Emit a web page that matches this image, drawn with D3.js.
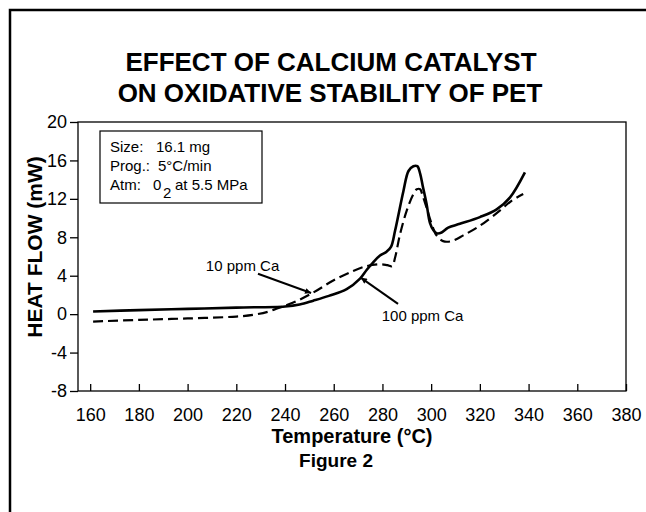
<!DOCTYPE html>
<html>
<head>
<meta charset="utf-8">
<script src="https://cdn.jsdelivr.net/npm/d3@7"></script>
<style>
  body { margin: 0; background: #fff; }
  svg { font-family: "Liberation Sans", Arial, sans-serif; }
</style>
</head>
<body>
<script>
// chart data (temperature in °C, heat flow in mW)
var xTicks = [160, 180, 200, 220, 240, 260, 280, 300, 320, 340, 360, 380];
var yTicks = [-8, -4, 0, 4, 8, 12, 16, 20];

var tempHigh = [161.2, 180, 200, 220, 240, 246, 251.6, 258, 265.3, 270.8, 273.5, 276.2, 279, 281.7, 283.5,
                285.2, 288.6, 290.7, 292.7, 294.3, 295.5, 296.5, 298.1, 299.5, 301, 302.5, 304.3, 307,
                311.8, 320, 326.9, 332.4, 338.5];
var flowHigh = [0.27, 0.42, 0.55, 0.68, 0.8, 1.0, 1.4, 1.9, 2.6, 3.7, 4.6, 5.4, 6.1, 6.5, 7.0,
                8.7, 12.8, 14.9, 15.4, 15.4, 14.6, 13.4, 11.5, 9.5, 8.7, 8.4, 8.5, 9.0,
                9.4, 10.1, 10.9, 12.15, 14.75];

var tempLow = [161.2, 180, 200, 220, 227, 233, 238, 243.4, 251.6, 259.8, 268, 273.5, 279, 282, 284,
               285.2, 287.2, 290, 292.7, 294.1, 295.5, 296.3, 298.1, 300.2, 302.2, 304.9, 308.4,
               313.2, 320, 328.3, 333, 337.8];
var flowLow = [-0.77, -0.6, -0.45, -0.25, -0.07, 0.25, 0.7, 1.2, 2.25, 3.5, 4.5, 5.0, 5.2, 5.1, 5.0,
               5.9, 8.3, 10.8, 12.5, 13.0, 13.0, 12.5, 11.1, 9.4, 8.2, 7.6, 7.6,
               8.2, 9.2, 10.8, 11.8, 12.5];

var infoLabels = ["Size:", "Prog.:", "Atm:"];
var infoValues = ["16.1 mg", "5°C/min", "0"];

// annotations: label position, arrow start, arrow tip (data units)
var notes = [
  {text: "10 ppm Ca", at: [207.5, 4.5], from: [228.9, 4.2], to: [250.7, 2.2]},
  {text: "100 ppm Ca", at: [279.7, -0.7], from: [286.4, 1.07], to: [271.2, 3.78]}
];

var w = 646, h = 512;

var svg = d3.select("body").append("svg")
    .attr("width", w)
    .attr("height", h);

svg.append("defs").append("marker")
    .attr("id", "head")
    .attr("viewBox", "0 0 10 10")
    .attr("refX", 10).attr("refY", 5)
    .attr("markerWidth", 10).attr("markerHeight", 6)
    .attr("markerUnits", "userSpaceOnUse")
    .attr("orient", "auto")
  .append("path")
    .attr("d", "M0,0L10,5L0,10Z")
    .attr("fill", "#000");

// outer frame, runs off the right and bottom edge
svg.append("rect")
    .attr("x", 10).attr("y", 10)
    .attr("width", 700).attr("height", 600)
    .attr("fill", "none")
    .attr("stroke", "#000")
    .attr("stroke-width", 2.5);

var x = d3.scaleLinear().domain([155, 380]).range([78, 626]);
var y = d3.scaleLinear().domain([-8, 20]).range([391, 122]);

// title
svg.append("text")
    .attr("x", 331).attr("y", 71)
    .attr("text-anchor", "middle")
    .attr("font-size", 26).attr("font-weight", "bold")
    .text("EFFECT OF CALCIUM CATALYST");
svg.append("text")
    .attr("x", 330).attr("y", 102)
    .attr("text-anchor", "middle")
    .attr("font-size", 26).attr("font-weight", "bold")
    .text("ON OXIDATIVE STABILITY OF PET");

// plot box
svg.append("rect")
    .attr("x", x(155)).attr("y", y(20))
    .attr("width", x(380) - x(155)).attr("height", y(-8) - y(20))
    .attr("fill", "none")
    .attr("stroke", "#000")
    .attr("stroke-width", 1.3);

// x axis, ticks pointing inward
var xAxis = svg.append("g")
    .attr("transform", "translate(0," + y(-8) + ")")
    .call(d3.axisBottom(x).tickValues(xTicks).tickSize(-7).tickPadding(17));
xAxis.select(".domain").remove();
xAxis.selectAll("line").attr("stroke-width", 1.3);
xAxis.selectAll("text").attr("font-size", 18).attr("font-family", "Liberation Sans, Arial, sans-serif");

// y axis, ticks pointing outward, plain hyphen for negatives
var yAxis = svg.append("g")
    .attr("transform", "translate(" + x(155) + ",0)")
    .call(d3.axisLeft(y).tickValues(yTicks).tickSize(8).tickPadding(3)
        .tickFormat(function(d) { return String(d); }));
yAxis.select(".domain").remove();
yAxis.selectAll("line").attr("stroke-width", 1.3);
yAxis.selectAll("text").attr("font-size", 18).attr("font-family", "Liberation Sans, Arial, sans-serif");

// axis titles
svg.append("text")
    .attr("transform", "translate(42,247) rotate(-90)")
    .attr("text-anchor", "middle")
    .attr("font-size", 21).attr("font-weight", "bold")
    .text("HEAT FLOW (mW)");
svg.append("text")
    .attr("x", 352).attr("y", 443)
    .attr("text-anchor", "middle")
    .attr("font-size", 20).attr("font-weight", "bold")
    .text("Temperature (°C)");
svg.append("text")
    .attr("x", 336).attr("y", 467)
    .attr("text-anchor", "middle")
    .attr("font-size", 19).attr("font-weight", "bold")
    .text("Figure 2");

// info box
svg.append("rect")
    .attr("x", 100).attr("y", 131)
    .attr("width", 162).attr("height", 72)
    .attr("fill", "#fff")
    .attr("stroke", "#000")
    .attr("stroke-width", 1.2);

var valueX = [156, 158, 153];
infoLabels.forEach(function(lab, i) {
    var by = 151.5 + i * 19;
    svg.append("text").attr("x", 110).attr("y", by).attr("font-size", 15).text(lab);
    svg.append("text").attr("x", valueX[i]).attr("y", by).attr("font-size", 15).text(infoValues[i]);
});
svg.append("text").attr("x", 163).attr("y", 198).attr("font-size", 15).text("2");
svg.append("text").attr("x", 175).attr("y", 189.5).attr("font-size", 15).text("at 5.5 MPa");

// curves
var line = d3.line()
    .x(function(d) { return x(d[0]); })
    .y(function(d) { return y(d[1]); })
    .curve(d3.curveCatmullRom.alpha(0.5));

svg.append("path")
    .datum(d3.zip(tempLow, flowLow))
    .attr("d", line)
    .attr("fill", "none")
    .attr("stroke", "#000")
    .attr("stroke-width", 2.2)
    .attr("stroke-dasharray", "10,5");

svg.append("path")
    .datum(d3.zip(tempHigh, flowHigh))
    .attr("d", line)
    .attr("fill", "none")
    .attr("stroke", "#000")
    .attr("stroke-width", 2.6);

// annotations
notes.forEach(function(n) {
    svg.append("text")
        .attr("x", x(n.at[0])).attr("y", y(n.at[1]))
        .attr("font-size", 15)
        .text(n.text);
    svg.append("line")
        .attr("x1", x(n.from[0])).attr("y1", y(n.from[1]))
        .attr("x2", x(n.to[0])).attr("y2", y(n.to[1]))
        .attr("stroke", "#000")
        .attr("stroke-width", 2)
        .attr("marker-end", "url(#head)");
});
</script>
</body>
</html>
